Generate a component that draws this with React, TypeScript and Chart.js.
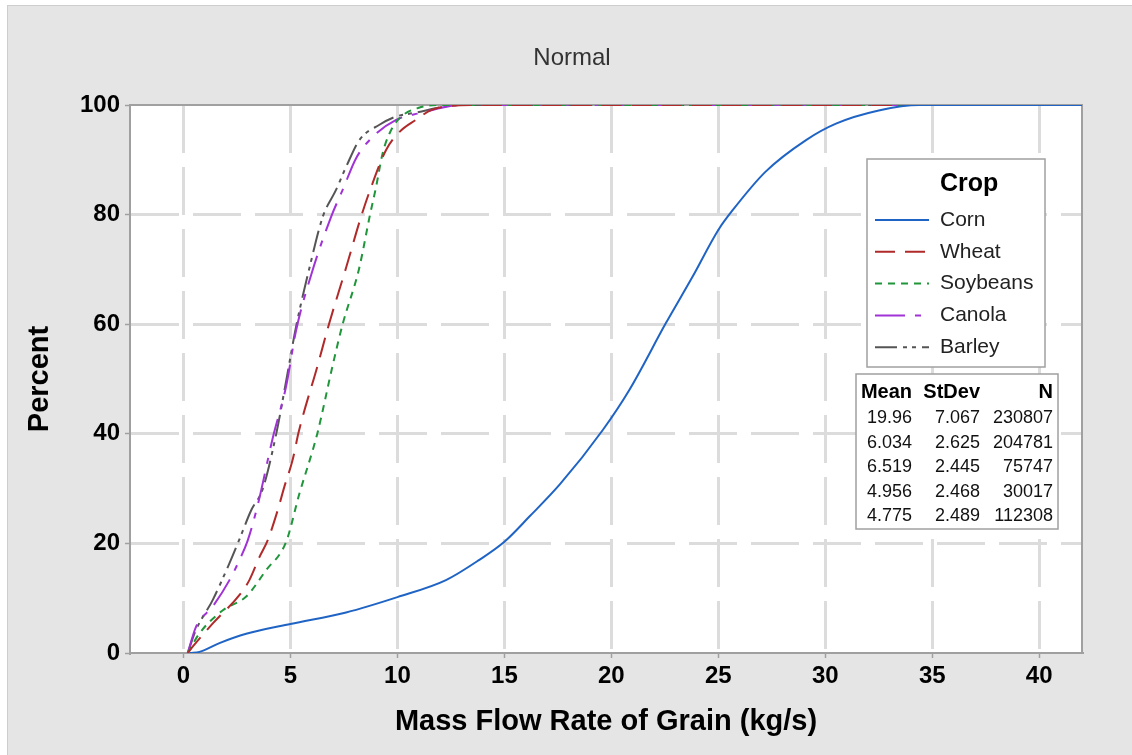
import React, { useEffect, useRef } from 'react';
import { Chart, registerables } from 'chart.js';

Chart.register(...registerables);

const FONT = '"Liberation Sans", Arial, Helvetica, sans-serif';

const chartTitle = 'Normal';
const xTitle = 'Mass Flow Rate of Grain (kg/s)';
const yTitle = 'Percent';
const legendTitle = 'Crop';

const crops = ['Corn', 'Wheat', 'Soybeans', 'Canola', 'Barley'];
const colors = ['#1f64c4', '#b02a2a', '#1f963a', '#a032d6', '#555555'];
const dashes: number[][] = [[], [20, 10], [7, 6], [30, 10, 6, 10], [22, 6, 4, 5, 4, 6]];

const cornX = [0.3, 0.75, 1.68, 2.93, 5.0, 7.6, 10.0, 12.27, 13.83, 15.0, 16.17, 17.6, 19.6, 20.84, 22.55, 23.8, 25.0, 25.67, 27.2, 29.1, 30.5, 32.5, 34.4, 42];
const cornY = [0, 0.2, 1.8, 3.5, 5.3, 7.4, 10.2, 13.3, 17, 20.3, 24.9, 30.8, 40.7, 48, 60.2, 68.7, 77.2, 80.8, 87.8, 93.6, 96.6, 99, 100, 100];

const wheatX = [0.2, 0.44, 1.37, 2.62, 3.08, 3.55, 3.94, 4.4, 4.72, 5.1, 5.39, 6.28, 6.8, 7.6, 8.3, 8.77, 9.47, 10.1, 10.87, 11.6, 13.5, 42];
const wheatY = [0, 1.2, 5.4, 10.6, 13.3, 17.5, 20.6, 26, 30.4, 35.2, 40.4, 52.6, 60, 70.3, 79.6, 85, 91.8, 95.1, 97.3, 99.1, 100, 100];

const soyX = [0.2, 0.75, 1.84, 2.93, 3.86, 4.8, 5.42, 6.04, 6.28, 6.98, 7.44, 8.2, 8.72, 9.0, 9.31, 9.63, 10.1, 11.0, 12, 42];
const soyY = [0, 3.6, 7.8, 10.3, 15.1, 20.3, 29.1, 37, 40.4, 52.6, 60, 70, 80, 85, 91.2, 94.8, 97.6, 99.5, 100, 100];

const canolaX = [0.2, 0.59, 1.37, 2.15, 2.62, 3.0, 3.47, 4.17, 4.8, 5.26, 5.96, 6.9, 7.44, 8.07, 8.85, 9.94, 11.03, 13, 42];
const canolaY = [0, 4.8, 8.5, 13.3, 17, 20.5, 27, 39.2, 48.7, 58.8, 68.9, 79.6, 84.5, 90.3, 94.2, 97.3, 98.5, 100, 100];

const barleyX = [0.2, 0.56, 1.37, 2.15, 2.62, 3.16, 3.71, 4.33, 4.88, 5.26, 5.89, 6.51, 7.13, 7.6, 8.22, 9.16, 9.94, 10.7, 13, 42];
const barleyY = [0, 4.0, 9.7, 16.4, 20.8, 26, 30, 39.9, 51.4, 59.5, 70.3, 79.6, 84.5, 88.7, 93.6, 96.4, 97.9, 98.5, 100, 100];

const seriesX = [cornX, wheatX, soyX, canolaX, barleyX];
const seriesY = [cornY, wheatY, soyY, canolaY, barleyY];

const statHeaders = ['Mean', 'StDev', 'N'];
const means = ['19.96', '6.034', '6.519', '4.956', '4.775'];
const stdevs = ['7.067', '2.625', '2.445', '2.468', '2.489'];
const counts = ['230807', '204781', '75747', '30017', '112308'];

const xTicks = [0, 5, 10, 15, 20, 25, 30, 35, 40];
const yTicks = [0, 20, 40, 60, 80, 100];

const W = 1132;
const H = 755;

const decorPlugin = {
  id: 'decor',
  beforeDraw(chart: any) {
    const { ctx, chartArea: a } = chart;
    ctx.save();
    ctx.fillStyle = '#ffffff';
    ctx.fillRect(0, 0, W, H);
    ctx.fillStyle = '#e5e5e5';
    ctx.fillRect(7, 5, W - 7, H - 5);
    ctx.strokeStyle = '#cdcdcd';
    ctx.lineWidth = 1;
    ctx.strokeRect(7.5, 5.5, W - 7, H - 5);
    ctx.fillStyle = '#ffffff';
    ctx.fillRect(a.left, a.top, a.right - a.left, a.bottom - a.top);
    ctx.fillStyle = '#333333';
    ctx.font = `24px ${FONT}`;
    ctx.textAlign = 'center';
    ctx.textBaseline = 'middle';
    ctx.fillText(chartTitle, 572, 58);
    ctx.restore();
  },
  beforeDatasetsDraw(chart: any) {
    const { ctx, chartArea: a } = chart;
    ctx.save();
    ctx.strokeStyle = '#a0a0a0';
    ctx.lineWidth = 2;
    ctx.beginPath();
    ctx.moveTo(a.left, a.top);
    ctx.lineTo(a.right, a.top);
    ctx.lineTo(a.right, a.bottom);
    ctx.stroke();
    ctx.restore();
  },
  afterDraw(chart: any) {
    const { ctx } = chart;
    ctx.save();
    // Legend box
    ctx.fillStyle = '#ffffff';
    ctx.fillRect(867, 159, 178, 208);
    ctx.strokeStyle = '#a0a0a0';
    ctx.lineWidth = 1.5;
    ctx.strokeRect(867, 159, 178, 208);
    ctx.fillStyle = '#000000';
    ctx.textBaseline = 'middle';
    ctx.textAlign = 'left';
    ctx.font = `bold 25px ${FONT}`;
    ctx.fillText(legendTitle, 940, 184);
    ctx.font = `21px ${FONT}`;
    crops.forEach((c, i) => {
      const y = 220 + i * 31.8;
      ctx.strokeStyle = colors[i];
      ctx.lineWidth = 2;
      ctx.setLineDash(dashes[i]);
      ctx.beginPath();
      ctx.moveTo(875, y);
      ctx.lineTo(929, y);
      ctx.stroke();
      ctx.setLineDash([]);
      ctx.fillStyle = '#222222';
      ctx.fillText(c, 940, y);
    });
    // Stats table
    ctx.fillStyle = '#ffffff';
    ctx.fillRect(856, 374, 202, 155);
    ctx.strokeStyle = '#a0a0a0';
    ctx.lineWidth = 1.5;
    ctx.strokeRect(856, 374, 202, 155);
    const cols = [912, 980, 1053];
    ctx.textAlign = 'right';
    ctx.fillStyle = '#000000';
    ctx.font = `bold 20px ${FONT}`;
    statHeaders.forEach((h, j) => ctx.fillText(h, cols[j], 392));
    ctx.font = `18px ${FONT}`;
    ctx.fillStyle = '#111111';
    for (let i = 0; i < means.length; i++) {
      const y = 418 + i * 24.6;
      ctx.fillText(means[i], cols[0], y);
      ctx.fillText(stdevs[i], cols[1], y);
      ctx.fillText(counts[i], cols[2], y);
    }
    ctx.restore();
  },
};

export default function App() {
  const ref = useRef<HTMLCanvasElement | null>(null);

  useEffect(() => {
    document.body.style.margin = '0';
    const canvas = ref.current;
    if (!canvas) return;
    const datasets = crops.map((c, i) => ({
      label: c,
      data: seriesX[i].map((x, k) => ({ x, y: seriesY[i][k] })),
      borderColor: colors[i],
      backgroundColor: colors[i],
      borderWidth: 2,
      borderDash: dashes[i],
      pointRadius: 0,
      fill: false,
      cubicInterpolationMode: 'monotone' as const,
    }));
    const chart = new Chart(canvas, {
      type: 'line',
      data: { datasets },
      plugins: [decorPlugin],
      options: {
        animation: false,
        responsive: false,
        maintainAspectRatio: false,
        layout: { padding: { top: 105, right: 50, left: 0, bottom: 0 } },
        plugins: {
          legend: { display: false },
          tooltip: { enabled: false },
          title: { display: false },
        },
        scales: {
          x: {
            type: 'linear',
            min: -2.5,
            max: 42,
            afterBuildTicks: (s: any) => {
              s.ticks = xTicks.map((v) => ({ value: v }));
            },
            afterFit: (s: any) => {
              s.height = H - 653;
            },
            ticks: {
              color: '#000000',
              font: { family: FONT, size: 24, weight: 'bold' },
              padding: 4,
              maxRotation: 0,
              autoSkip: false,
              callback: (v: any) => String(v),
            },
            grid: {
              color: '#dcdcdc',
              lineWidth: 3,
              tickColor: '#a0a0a0',
              tickWidth: 1.5,
              tickBorderDash: [],
              tickLength: 5,
            } as any,
            border: { color: '#a0a0a0', width: 2, dash: [48, 14] },
            title: {
              display: true,
              text: xTitle,
              color: '#000000',
              font: { family: FONT, size: 29, weight: 'bold' },
              padding: { top: 0, bottom: 16 },
            },
          },
          y: {
            type: 'linear',
            min: 0,
            max: 100,
            afterBuildTicks: (s: any) => {
              s.ticks = yTicks.map((v) => ({ value: v }));
            },
            afterFit: (s: any) => {
              s.width = 130;
            },
            ticks: {
              color: '#000000',
              font: { family: FONT, size: 24, weight: 'bold' },
              padding: 5,
              autoSkip: false,
              callback: (v: any) => String(v),
            },
            grid: {
              color: (c: any) =>
                c.tick && (c.tick.value === 0 || c.tick.value === 100) ? 'rgba(0,0,0,0)' : '#dcdcdc',
              lineWidth: 3,
              tickColor: '#a0a0a0',
              tickWidth: 1.5,
              tickBorderDash: [],
              tickLength: 5,
            } as any,
            border: { color: '#a0a0a0', width: 2, dash: [48, 14] },
            title: {
              display: true,
              text: yTitle,
              color: '#000000',
              font: { family: FONT, size: 29, weight: 'bold' },
              padding: { top: 23, bottom: 0 },
            },
          },
        },
      } as any,
    });
    return () => chart.destroy();
  }, []);

  return (
    <div style={{ position: 'absolute', left: 0, top: 0, width: W, height: H }}>
      <canvas ref={ref} width={W} height={H} style={{ width: W, height: H, display: 'block' }} />
    </div>
  );
}
